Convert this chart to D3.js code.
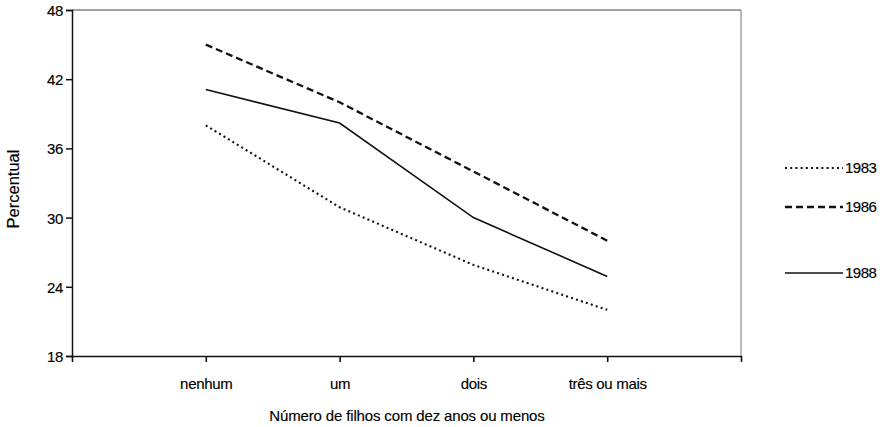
<!DOCTYPE html>
<html>
<head>
<meta charset="utf-8">
<script src="https://cdn.jsdelivr.net/npm/d3@7"></script>
<style>
  body { margin: 0; background: #fff; }
  svg text { font-family: "Liberation Sans", Arial, sans-serif; fill: #000; stroke: #000; stroke-width: 0.15px; }
</style>
</head>
<body>
<script>
// chart data
const categories = ['nenhum', 'um', 'dois', 'três ou mais'];
const years = ['1983', '1986', '1988'];
const values1983 = [38.0, 30.9, 25.9, 22.0];
const values1986 = [45.0, 40.0, 34.0, 28.0];
const values1988 = [41.1, 38.2, 30.0, 24.9];
const yTicks = [18, 24, 30, 36, 42, 48];

const series = [
  { year: years[0], values: values1983, dash: '2,3.2', width: 2.1 },
  { year: years[1], values: values1986, dash: '7,4', width: 2.3 },
  { year: years[2], values: values1988, dash: null, width: 1.6 }
];

const width = 889, height = 427;
const margin = { left: 72, right: 148, top: 10, bottom: 71 };
const plotW = width - margin.left - margin.right;
const plotH = height - margin.top - margin.bottom;

const svg = d3.select('body').append('svg')
  .attr('width', width)
  .attr('height', height);

const g = svg.append('g')
  .attr('transform', `translate(${margin.left},${margin.top})`);

const x = d3.scalePoint()
  .domain(categories)
  .range([0, plotW])
  .padding(1);

const y = d3.scaleLinear()
  .domain([18, 48])
  .range([plotH, 0]);

// frame on top and right (lighter, like the scan)
g.append('line')
  .attr('x1', 0).attr('x2', plotW).attr('y1', 0).attr('y2', 0)
  .attr('stroke', '#444').attr('stroke-width', 1);
g.append('line')
  .attr('x1', plotW).attr('x2', plotW).attr('y1', 0).attr('y2', plotH)
  .attr('stroke', '#777').attr('stroke-width', 1);

// y axis
const yAxis = g.append('g')
  .call(d3.axisLeft(y).tickValues(yTicks).tickSize(6).tickPadding(3));
yAxis.selectAll('path, line').attr('stroke', '#111').attr('stroke-width', 1.5);
yAxis.selectAll('text')
  .style('font-size', '15px')
  .style('letter-spacing', '-0.3px')
  .attr('dy', '0.36em');

// x axis
const xAxis = g.append('g')
  .attr('transform', `translate(0,${plotH})`)
  .call(d3.axisBottom(x).tickSize(6).tickSizeOuter(6).tickPadding(16));
xAxis.selectAll('path, line').attr('stroke', '#111').attr('stroke-width', 1.6);
xAxis.selectAll('text').style('font-size', '15px').style('letter-spacing', '-0.3px');

// lines
const line = d3.line()
  .x((d, i) => x(categories[i]))
  .y(d => y(d));

g.selectAll('.serie')
  .data(series)
  .enter()
  .append('path')
  .attr('class', 'serie')
  .attr('d', d => line(d.values))
  .attr('fill', 'none')
  .attr('stroke', '#111')
  .attr('stroke-width', d => d.width)
  .attr('stroke-dasharray', d => d.dash);

// axis titles
svg.append('text')
  .attr('transform', `translate(19,${margin.top + plotH / 2 + 6}) rotate(-90)`)
  .attr('text-anchor', 'middle')
  .style('font-size', '16.5px')
  .text('Percentual');

svg.append('text')
  .attr('x', 407)
  .attr('y', 421)
  .attr('text-anchor', 'middle')
  .style('font-size', '15px')
  .style('letter-spacing', '-0.15px')
  .text('Número de filhos com dez anos ou menos');

// legend
const legendY = [168, 207, 273];
const legend = svg.selectAll('.legend')
  .data(series)
  .enter()
  .append('g')
  .attr('class', 'legend')
  .attr('transform', (d, i) => `translate(785,${legendY[i]})`);

legend.append('line')
  .attr('x1', 0).attr('x2', 58)
  .attr('stroke', '#111')
  .attr('stroke-width', d => d.width)
  .attr('stroke-dasharray', d => d.dash);

legend.append('text')
  .attr('x', 60)
  .attr('dy', '0.36em')
  .style('font-size', '15px')
  .style('letter-spacing', '-0.5px')
  .text(d => d.year);
</script>
</body>
</html>
